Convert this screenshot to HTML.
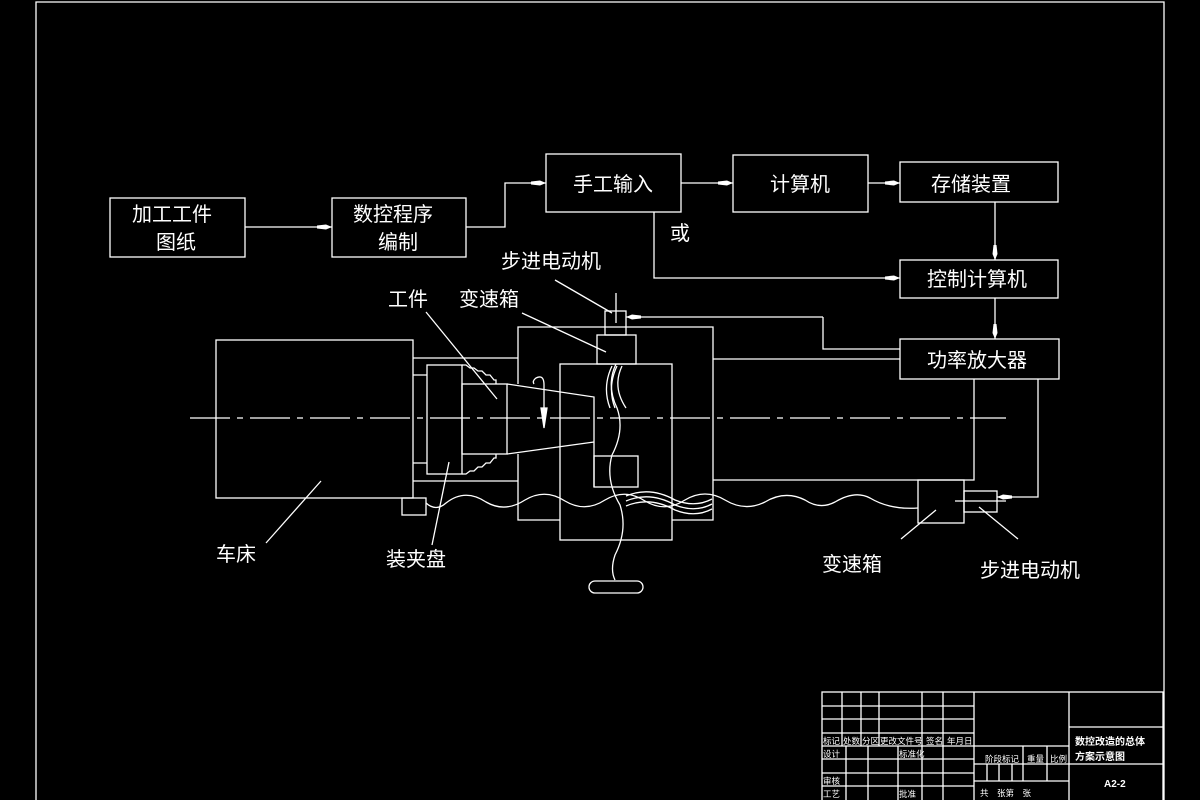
<!DOCTYPE html>
<html><head><meta charset="utf-8"><style>
html,body{margin:0;padding:0;background:#000;width:1200px;height:800px;overflow:hidden}
svg{display:block}
text{fill:#fff;font-family:"Liberation Sans","Noto Sans CJK SC",sans-serif}
</style></head><body>
<svg width="1200" height="800" viewBox="0 0 1200 800" xmlns="http://www.w3.org/2000/svg">
<defs>
<marker id="a" markerWidth="16" markerHeight="8" refX="15" refY="4" orient="auto" markerUnits="userSpaceOnUse">
<path d="M0,2.5 L9,1.5 L15,4 L9,6.5 L0,5.5 Z" fill="#fff"/>
</marker>
</defs>
<g fill="none" stroke="#fff" stroke-width="1.3">
<path d="M36,800 V2 H1164 V800"/>
<rect x="110" y="198" width="135" height="59"/>
<rect x="332" y="198" width="134" height="59"/>
<rect x="546" y="154" width="135" height="58"/>
<rect x="733" y="155" width="135" height="57"/>
<rect x="900" y="162" width="158" height="40"/>
<rect x="900" y="260" width="158" height="38"/>
<rect x="900" y="339" width="159" height="40"/>
<path d="M245,227 H332" marker-end="url(#a)"/>
<path d="M466,227 H505 V183 H546" marker-end="url(#a)"/>
<path d="M681,183 H733" marker-end="url(#a)"/>
<path d="M868,183 H900" marker-end="url(#a)"/>
<path d="M995,202 V260" marker-end="url(#a)"/>
<path d="M654,212 V278 H900" marker-end="url(#a)"/>
<path d="M995,298 V339" marker-end="url(#a)"/>
<rect x="216" y="340" width="197" height="158"/>
<rect x="402" y="498" width="24" height="17"/>
<path d="M413,358 H518 M413,481 H518 M413,375 H427 M413,463 H427"/>
<rect x="427" y="365" width="35" height="109"/>
<rect x="462" y="384" width="45" height="70"/>
<path d="M462,365 H466 L470,368 H474 L478,371 H482 L486,375 H490 L494,380 H496 V384"/>
<path d="M462,474 H466 L470,471 H474 L478,467 H482 L486,463 H490 L494,458 H496 V454"/>
<path d="M507,384 L594,397 V487 M507,454 L594,442"/>
<rect x="594" y="456" width="44" height="31"/>
<path d="M518,384 V327 H713 V520 H672 M518,454 V520 H560"/>
<rect x="560" y="364" width="112" height="176"/>
<rect x="597" y="335" width="39" height="29"/>
<rect x="605" y="311" width="21" height="24"/>
<path d="M616,293 V323"/>
<path d="M713,359 H900 M974,379 V480 H713"/>
<path d="M823,317 V349 H900" />
<path d="M823,317 H626" marker-end="url(#a)"/>
<rect x="918" y="480" width="46" height="43"/>
<rect x="964" y="491" width="33" height="21"/>
<path d="M955,501 H1006"/>
<path d="M1038,379 V497 H997" marker-end="url(#a)"/>
<path d="M190,418 H1006" stroke-dasharray="40,7,6,7"/>
<path d="M544,408 V385 Q544,374 536,378 Q532,381 534,384"/>
<path d="M541,408 H547 L544,428 Z" fill="#fff"/>
<path d="M426,503 Q436,512 446,503 Q465,488 486,502 Q505,513 525,500 Q545,488 565,501 Q585,513 605,500 Q625,488 645,501 Q665,513 685,500 Q705,488 725,500 Q745,512 765,502 Q785,490 805,500 Q820,510 835,502 Q855,490 870,498 Q890,510 918,508"/>
<path d="M626,496 Q650,486 675,500 Q695,508 712,499 M626,501 Q650,491 675,505 Q695,513 712,504 M626,506 Q650,496 675,510 Q695,518 712,509"/>
<path d="M616,364 Q606,385 617,408 Q625,430 612,455 Q605,480 620,505 Q628,530 615,555 Q610,570 615,580"/>
<path d="M612,366 Q602,387 610,408 M617,366 Q607,387 615,408 M622,366 Q612,387 626,408"/>
<rect x="589" y="581" width="54" height="12" rx="6"/>
<path d="M555,280 L612,313 M426,312 L497,399 M522,313 L606,352 M266,543 L321,481 M432,545 L449,462 M901,539 L936,510 M979,507 L1018,539"/>
<rect x="822" y="692" width="341" height="110"/>
<path d="M822,706 H974 M822,719 H974 M822,733 H974 M822,746 H1069 M822,759 H974 M822,773 H974 M822,786 H974"/>
<path d="M842,692 V746 M861,692 V746 M879,692 V746 M922,692 V800 M943,692 V800 M974,692 V800"/>
<path d="M846,746 V800 M868,746 V800 M898,746 V800"/>
<path d="M974,764 H1163 M974,781 H1069 M1069,692 V800 M1069,727 H1163"/>
<path d="M1023,746 V781 M1047,746 V781 M987,764 V781 M999,764 V781 M1012,764 V781"/>
</g>
<g font-size="20">
<text x="132" y="221">加工工件</text>
<text x="156" y="249">图纸</text>
<text x="353" y="221">数控程序</text>
<text x="378" y="249">编制</text>
<text x="573" y="191">手工输入</text>
<text x="770" y="191">计算机</text>
<text x="931" y="191">存储装置</text>
<text x="927" y="286">控制计算机</text>
<text x="927" y="367">功率放大器</text>
<text x="670" y="240">或</text>
<text x="501" y="268">步进电动机</text>
<text x="388" y="306">工件</text>
<text x="459" y="306">变速箱</text>
<text x="216" y="561">车床</text>
<text x="386" y="566">装夹盘</text>
<text x="822" y="571">变速箱</text>
<text x="980" y="577">步进电动机</text>
</g>
<g font-size="8.5">
<text x="823" y="744">标记</text><text x="843" y="744">处数</text><text x="862" y="744">分区</text><text x="880" y="744">更改文件号</text><text x="926" y="744">签名</text><text x="947" y="744">年月日</text>
<text x="823" y="757">设计</text><text x="899" y="757">标准化</text>
<text x="823" y="784">审核</text>
<text x="823" y="797">工艺</text><text x="899" y="797">批准</text>
<text x="985" y="762">阶段标记</text><text x="1027" y="762">重量</text><text x="1050" y="762">比例</text>
<text x="980" y="796">共　张第　张</text>
</g>
<g font-size="10" font-weight="bold">
<text x="1075" y="745">数控改造的总体</text>
<text x="1075" y="760">方案示意图</text>
<text x="1104" y="787">A2-2</text>
</g>
</svg>
</body></html>
